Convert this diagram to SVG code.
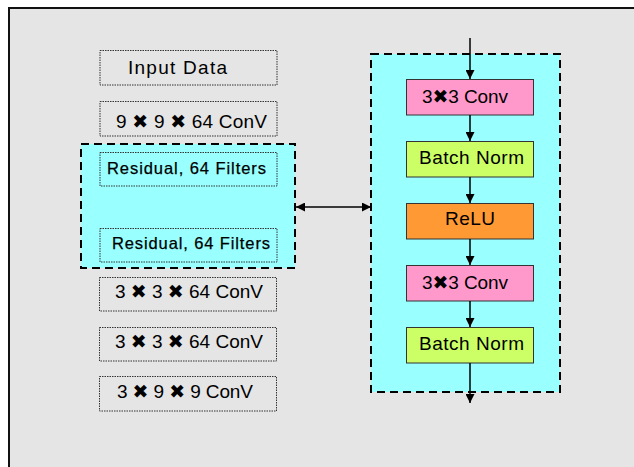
<svg xmlns="http://www.w3.org/2000/svg" width="634" height="467" viewBox="0 0 634 467">
<defs>
<marker id="ah" viewBox="0 0 10 10" refX="10" refY="5" markerWidth="9" markerHeight="9" markerUnits="userSpaceOnUse" orient="auto-start-reverse">
<path d="M0,0 L10,5 L0,10 z" fill="#000"/>
</marker>
<style>
.t{font-family:"Liberation Sans","DejaVu Sans",sans-serif;font-size:19px;fill:#000;}
.rs{font-size:16.5px;stroke:#000;stroke-width:0.25px;}
.dot{fill:none;stroke:#333;stroke-width:1;stroke-dasharray:1.5 1;}
.dash{fill:#99ffff;stroke:#000;stroke-width:2;stroke-dasharray:8 5;}
.blk{stroke:#333;stroke-width:1;}
.ln{stroke:#000;stroke-width:1.5;fill:none;}
</style>
</defs>
<rect x="0" y="0" width="634" height="467" fill="#fff"/>
<rect x="9" y="8" width="625" height="459" fill="#e5e5e5"/>
<path d="M9,467 V8 H634" fill="none" stroke="#111" stroke-width="2"/>

<g id="input-data"><rect class="dot" x="100" y="50.5" width="177" height="34.5"/><text class="t" x="128" y="74" textLength="99">Input Data</text></g>
<g id="conv9"><rect class="dot" x="100" y="101.5" width="177" height="34.5"/><text class="t" x="116" y="128" textLength="151">9 ✖ 9 ✖ 64 ConV</text></g>

<g id="residual-group">
<rect class="dash" x="81" y="144" width="214" height="124"/>
<g id="res1"><rect class="dot" x="100" y="152.5" width="177" height="33.5"/><text class="t rs" x="107" y="174" textLength="159">Residual, 64 Filters</text></g>
<g id="res2"><rect class="dot" x="100" y="228.5" width="177" height="33.5"/><text class="t rs" x="112" y="249" textLength="158">Residual, 64 Filters</text></g>
</g>

<g id="conv3a"><rect class="dot" x="99.5" y="277.5" width="177" height="33.5"/><text class="t" x="115" y="298" textLength="148">3 ✖ 3 ✖ 64 ConV</text></g>
<g id="conv3b"><rect class="dot" x="99.5" y="327.5" width="177" height="33.5"/><text class="t" x="115" y="348" textLength="148">3 ✖ 3 ✖ 64 ConV</text></g>
<g id="conv3c"><rect class="dot" x="99.5" y="376.5" width="177" height="34.5"/><text class="t" x="117" y="398" textLength="136">3 ✖ 9 ✖ 9 ConV</text></g>

<g id="block">
<rect class="dash" x="371" y="54" width="189" height="338"/>
</g>
<g id="conv-a"><rect class="blk" x="406.5" y="79.5" width="127" height="35.5" fill="#ff99cc"/><text class="t" x="422" y="103" textLength="86">3✖3 Conv</text></g>
<g id="bn-a"><rect class="blk" x="406.5" y="141.5" width="127" height="35.5" fill="#ccff66"/><text class="t" x="419" y="164" textLength="105">Batch Norm</text></g>
<g id="relu"><rect class="blk" x="406.5" y="203.5" width="127" height="35.5" fill="#ff9933"/><text class="t" x="445" y="225" textLength="50">ReLU</text></g>
<g id="conv-b"><rect class="blk" x="406.5" y="265.5" width="127" height="35.5" fill="#ff99cc"/><text class="t" x="422" y="289" textLength="86">3✖3 Conv</text></g>
<g id="bn-b"><rect class="blk" x="406.5" y="327.5" width="127" height="35.5" fill="#ccff66"/><text class="t" x="419" y="350" textLength="105">Batch Norm</text></g>

<g id="connectors">
<line class="ln" x1="470" y1="38" x2="470" y2="79" marker-end="url(#ah)"/>
<line class="ln" x1="470" y1="115" x2="470" y2="141" marker-end="url(#ah)"/>
<line class="ln" x1="470" y1="177" x2="470" y2="203" marker-end="url(#ah)"/>
<line class="ln" x1="470" y1="239" x2="470" y2="265" marker-end="url(#ah)"/>
<line class="ln" x1="470" y1="301" x2="470" y2="327" marker-end="url(#ah)"/>
<line class="ln" x1="470" y1="363" x2="470" y2="403" marker-end="url(#ah)"/>
<line class="ln" x1="296" y1="207" x2="371" y2="207" marker-start="url(#ah)" marker-end="url(#ah)"/>
</g>
</svg>
